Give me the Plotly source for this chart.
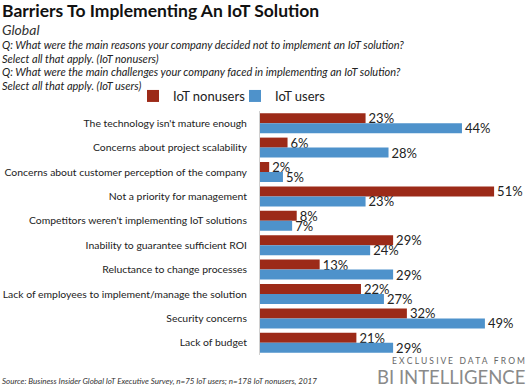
import plotly.graph_objects as go

categories = [
    "The technology isn't mature enough",
    "Concerns about project scalability",
    "Concerns about customer perception of the company",
    "Not a priority for management",
    "Competitors weren't implementing IoT solutions",
    "Inability to guarantee sufficient ROI",
    "Reluctance to change processes",
    "Lack of employees to implement/manage the solution",
    "Security concerns",
    "Lack of budget",
]
nonusers = [23, 6, 2, 51, 8, 29, 13, 22, 32, 21]
users = [44, 28, 5, 23, 7, 24, 29, 27, 49, 29]

W, H = 530, 388
L, R, T, B = 260, 10, 111, 33
PW, PH = W - L - R, H - T - B

def px(x):
    return (x - L) / PW

def py(y):
    return (H - B - y) / PH

FONT = "Lato"
RED = "#9C2A18"
BLUE = "#4E92CB"

fig = go.Figure()
fig.add_trace(go.Bar(
    y=categories, x=nonusers, orientation="h", name="IoT nonusers",
    marker=dict(color=RED, line=dict(width=0)),
    text=[f"{v}%" for v in nonusers], textposition="outside",
    constraintext="none", cliponaxis=False,
    textfont=dict(family=FONT, size=13, color="#222"),
))
fig.add_trace(go.Bar(
    y=categories, x=users, orientation="h", name="IoT users",
    marker=dict(color=BLUE, line=dict(width=0)),
    text=[f"{v}%" for v in users], textposition="outside",
    constraintext="none", cliponaxis=False,
    textfont=dict(family=FONT, size=13, color="#222"),
))

fig.update_layout(
    width=W, height=H,
    margin=dict(l=L, r=R, t=T, b=B, pad=0, autoexpand=False),
    paper_bgcolor="white", plot_bgcolor="white",
    barmode="group", bargap=0.18, bargroupgap=0,
    font=dict(family=FONT, color="#222"),
    showlegend=True,
    legend=dict(orientation="h", x=px(133), y=py(81), xanchor="left", yanchor="top",
                font=dict(family=FONT, size=13, color="#222"),
                itemwidth=30, entrywidth=57, entrywidthmode="pixels",
                tracegroupgap=0, bgcolor="rgba(0,0,0,0)"),
    xaxis=dict(range=[0, PW / 4.59], visible=False, showgrid=False, zeroline=False,
               automargin=False),
    yaxis=dict(autorange="reversed", showgrid=False, zeroline=False, automargin=False,
               showline=True, linecolor="#d0d0d0", linewidth=1,
               ticks="", ticklabelstandoff=10,
               tickfont=dict(family=FONT, size=10.4, color="#222")),
)

def ann(text, x, y, size, color="#222", xanchor="left", **kw):
    fig.add_annotation(text=text, x=px(x), y=py(y), xref="paper", yref="paper",
                       xanchor=xanchor, yanchor="middle", showarrow=False,
                       font=dict(family=FONT, size=size, color=color), **kw)

ann("<b>Barriers To Implementing An IoT Solution</b>", 0, 10, 17.5, "#111")
ann("<i>Global</i>", 0, 29.5, 14, "#333")
ann("<i>Q: What were the main reasons your company decided not to implement an IoT solution?</i>", 0, 44, 11, "#222")
ann("<i>Select all that apply. (IoT nonusers)</i>", 0, 58, 11, "#222")
ann("<i>Q: What were the main challenges your company faced in implementing an IoT solution?</i>", 0, 71, 11, "#222")
ann("<i>Select all that apply. (IoT users)</i>", 0, 85, 11, "#222")
ann("<i>Source: Business Insider Global IoT Executive Survey, n=75 IoT users; n=178 IoT nonusers, 2017</i>", 0, 381, 8, "#333")
ann(" ".join("EXCLUSIVE") + "   " + " ".join("DATA") + "   " + " ".join("FROM"), 527, 361, 8.5, "#666", xanchor="right")
ann("BI INTELLIGENCE", 527, 377, 18.5, "#8a8a8a", xanchor="right")

fig.write_html("out.html", config={"displayModeBar": False},
               post_script="document.body.style.margin='0px';document.body.style.overflow='hidden';")
